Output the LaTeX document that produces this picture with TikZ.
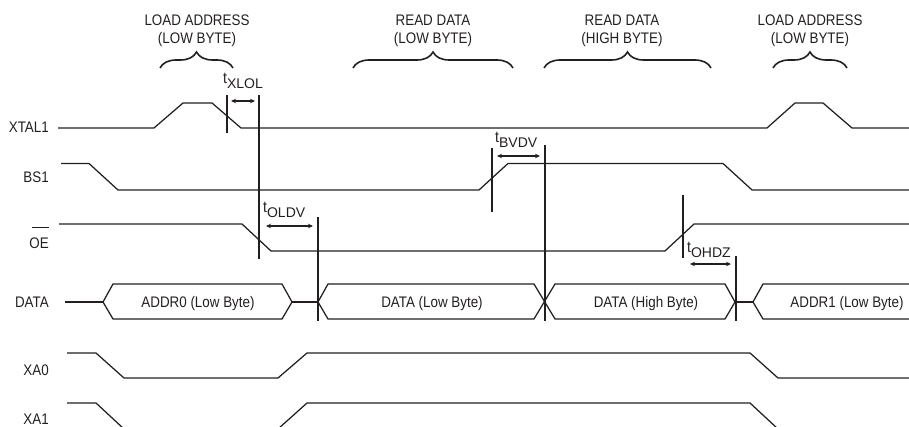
\documentclass[tikz,border=0pt]{standalone}
\usepackage{fontspec}
\setmainfont{Liberation Sans}[FakeStretch=0.875]
\newfontfamily\subfont{Liberation Sans}
\usetikzlibrary{arrows.meta,decorations.pathreplacing}
\definecolor{ink}{HTML}{231F20}
\begin{document}
\begin{tikzpicture}[x=1pt,y=-1pt,
  wave/.style={draw=ink,line width=1.25pt,line join=miter},
  marker/.style={draw=ink,line width=1.25pt},
  dim/.style={draw=ink,line width=1.25pt,{Stealth[length=5pt,width=4.5pt]}-{Stealth[length=5pt,width=4.5pt]}},
  curly/.style={draw=ink,line width=1.6pt,decorate,decoration={brace,amplitude=16pt}},
  lbl/.style={inner sep=0pt,text=ink,font=\fontsize{15.3}{18}\selectfont},
  rowlbl/.style={lbl,anchor=east},
  tlbl/.style={inner sep=0pt,text=ink,anchor=base west,font=\fontsize{16}{18}\selectfont},
  subtxt/.style={}]
\useasboundingbox (0,0) rectangle (909,427);
\clip (0,0) rectangle (909,427);

% ---- phase labels and braces
\node[lbl,anchor=base] (la1) at (197,25.5) {LOAD ADDRESS};
\node[lbl,anchor=base] (lb1) at (197,43.5) {(LOW BYTE)};
\node[lbl,anchor=base] (la2) at (433,25.5) {READ DATA};
\node[lbl,anchor=base] (lb2) at (433,43.5) {(LOW BYTE)};
\node[lbl,anchor=base] (la3) at (622,25.5) {READ DATA};
\node[lbl,anchor=base] (lb3) at (622,43.5) {(HIGH BYTE)};
\node[lbl,anchor=base] (la4) at (810,25.5) {LOAD ADDRESS};
\node[lbl,anchor=base] (lb4) at (810,43.5) {(LOW BYTE)};
\draw[curly] (160,68) -- (233,68);
\draw[curly] (353,68) -- (513,68);
\draw[curly] (544,68) -- (711,68);
\draw[curly] (773,68) -- (847,68);

% ---- row labels
\node[rowlbl] (xtal) at (49,127) {XTAL1};
\node[rowlbl] (bs) at (49,177) {BS1};
\node[rowlbl] (oe) at (49,243) {OE};
\coordinate (obar) at (0,227.5);
\draw[draw=ink,line width=1.1pt] ([xshift=2.5pt]oe.west |- obar) -- (oe.east |- obar);
\node[rowlbl] (data) at (49,302) {DATA};
\node[rowlbl] (xa0) at (49,370) {XA0};
\node[rowlbl] (xa1) at (49,419) {XA1};

% ---- waveforms
\draw[wave] (58,128) -- (154,128) -- (183,103) -- (212,103) -- (241,128) -- (767,128) -- (795,103) -- (823,103) -- (852,128) -- (909,128);
\draw[wave] (61,163.5) -- (89,163.5) -- (118,190) -- (479,190) -- (508,163.5) -- (723,163.5) -- (752,190) -- (909,190);
\draw[wave] (59,224) -- (242,224) -- (271,251) -- (665,251) -- (694,224) -- (909,224);
% DATA bus
\draw[wave] (65,302) -- (103,302);
\draw[wave] (103,302) -- (113,284) -- (282,284) -- (292,302) -- (282,319) -- (113,319) -- cycle;
\draw[wave] (292,302) -- (318,302);
\draw[wave] (318,302) -- (328,284) -- (534,284) -- (544.5,301.5) -- (534,319) -- (328,319) -- cycle;
\draw[wave] (544.5,301.5) -- (555,284) -- (725,284) -- (735,302) -- (725,319) -- (555,319) -- cycle;
\draw[wave] (735,302) -- (753,302);
\draw[wave] (909,284) -- (763,284) -- (753,302) -- (763,319) -- (909,319);
\node[lbl,anchor=base] (d1) at (198,307.5) {ADDR0 (Low Byte)};
\node[lbl,anchor=base] (d2) at (432,307.5) {DATA (Low Byte)};
\node[lbl,anchor=base] (d3) at (646,307.5) {DATA (High Byte)};
\node[lbl,anchor=base] (d4) at (847,307.5) {ADDR1 (Low Byte)};
% XA0, XA1
\draw[wave] (67,353) -- (96,353) -- (124,378) -- (278,378) -- (307,353) -- (750,353) -- (778,378) -- (909,378);
\draw[wave] (67,403) -- (96,403) -- (124,429) -- (278,429) -- (307,403) -- (750,403) -- (778,429) -- (909,429);

% ---- timing markers
\draw[marker] (227,95) -- (227,133);
\draw[marker] (259,95) -- (259,259);
\draw[marker] (318,217) -- (318,321);
\draw[marker] (492,148) -- (492,212);
\draw[marker] (545,145) -- (545,321);
\draw[marker] (683,195) -- (683,258);
\draw[marker] (736,256) -- (736,321);

\draw[dim] (231,101) -- (255,101);
\draw[dim] (266,226) -- (313,226);
\draw[dim] (497,156) -- (540,156);
\draw[dim] (690,264) -- (731,264);

\node[tlbl] (txlol) at (223,84) {t\raisebox{-5pt}{\subfont\fontsize{14}{14}\selectfont XLOL}};
\node[tlbl] (toldv) at (263,213) {t\raisebox{-5pt}{\subfont\fontsize{14}{14}\selectfont OLDV}};
\node[tlbl] (tbvdv) at (495,143) {t\raisebox{-5pt}{\subfont\fontsize{14}{14}\selectfont BVDV}};
\node[tlbl] (tohdz) at (687,253) {t\raisebox{-5pt}{\subfont\fontsize{14}{14}\selectfont OHDZ}};
\end{tikzpicture}
\end{document}
